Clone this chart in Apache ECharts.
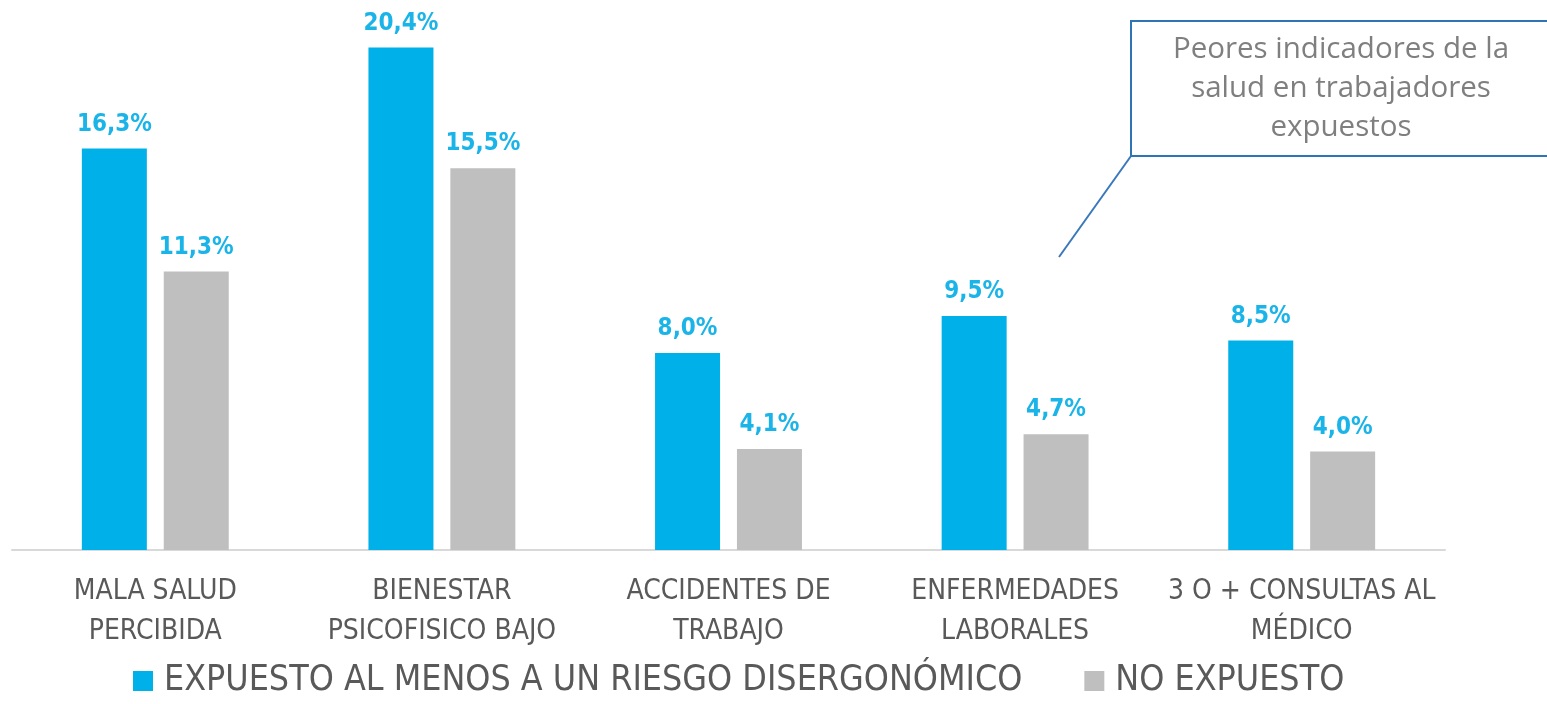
<!DOCTYPE html>
<html>
<head>
<meta charset="utf-8">
<script src="https://cdn.jsdelivr.net/npm/echarts@6/dist/echarts.min.js"></script>
<style>
  html, body { margin: 0; padding: 0; background: #fff; }
  #chart { width: 1547px; height: 704px; }
</style>
</head>
<body>
<div id="chart"></div>
<script>
// categorias del eje x
var categories = [
  "MALA SALUD\nPERCIBIDA",
  "BIENESTAR\nPSICOFISICO BAJO",
  "ACCIDENTES DE\nTRABAJO",
  "ENFERMEDADES\nLABORALES",
  "3 O + CONSULTAS AL\nMÉDICO"
];
var seriesNames = ["EXPUESTO AL MENOS A UN RIESGO DISERGONÓMICO", "NO EXPUESTO"];
var expuesto = [16.3, 20.4, 8.0, 9.5, 8.5];
var noExpuesto = [11.3, 15.5, 4.1, 4.7, 4.0];
var noteLines = ["Peores indicadores de la", "salud en trabajadores", "expuestos"];

var narrow = "'Liberation Sans Narrow', 'DejaVu Sans Condensed', sans-serif";

var chart = echarts.init(document.getElementById("chart"));

function pct(p) {
  return p.value.toFixed(1).replace(".", ",") + "%";
}

var labelStyle = {
  show: true,
  position: "top",
  distance: 12,
  formatter: pct,
  color: "#1AB4E8",
  fontFamily: "'DejaVu Sans Condensed', sans-serif",
  fontWeight: "bold",
  fontSize: 24
};

chart.setOption({
  animation: false,
  color: ["#00B0E8", "#BFBFBF"],
  grid: { left: 12, right: 102, top: 8, bottom: 154 },
  legend: {
    bottom: 0,
    left: 128,
    itemWidth: 20,
    itemHeight: 20,
    itemGap: 62,
    icon: "rect",
    textStyle: {
      color: "#595959",
      fontFamily: narrow,
      fontSize: 35.5,
      padding: [0, 0, 0, 6]
    },
    data: seriesNames
  },
  xAxis: {
    type: "category",
    data: categories,
    axisLine: { lineStyle: { color: "#D9D9D9", width: 2 } },
    axisTick: { show: false },
    axisLabel: {
      color: "#595959",
      fontFamily: narrow,
      fontSize: 28,
      lineHeight: 40,
      margin: 22,
      interval: 0
    }
  },
  yAxis: {
    type: "value",
    min: 0,
    max: 22,
    show: false
  },
  series: [
    {
      name: seriesNames[0],
      type: "bar",
      data: expuesto,
      barWidth: 65,
      barGap: "26%",
      label: labelStyle
    },
    {
      name: seriesNames[1],
      type: "bar",
      data: noExpuesto,
      barWidth: 65,
      label: labelStyle
    }
  ],
  graphic: [
    {
      type: "line",
      shape: { x1: 1131, y1: 156, x2: 1059, y2: 257 },
      style: { stroke: "#3A78BC", lineWidth: 2 }
    },
    {
      type: "rect",
      shape: { x: 1131, y: 21, width: 440, height: 135 },
      style: { fill: "#fff", stroke: "#2E75B6", lineWidth: 2 }
    },
    {
      type: "text",
      x: 1341,
      y: 89,
      style: {
        text: noteLines.join("\n"),
        align: "center",
        verticalAlign: "middle",
        fill: "#7F7F7F",
        font: "29.5px 'Open Sans'",
        lineHeight: 39
      }
    }
  ]
});
</script>
</body>
</html>
